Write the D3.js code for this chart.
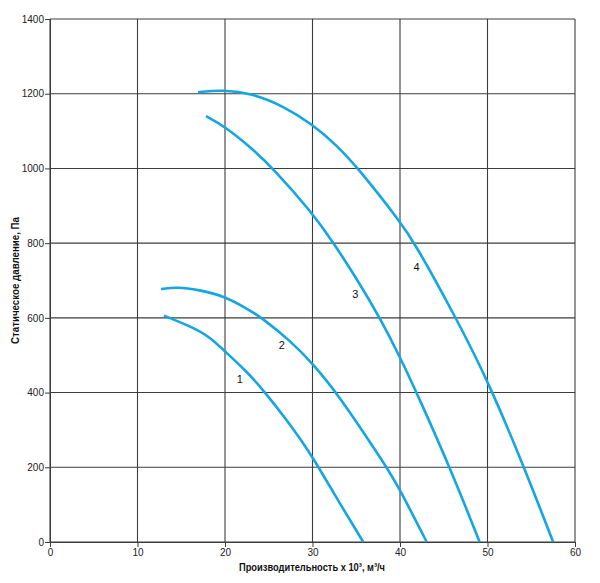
<!DOCTYPE html>
<html>
<head>
    <meta charset="utf-8">
    <title>Fan curves</title>
    <script src="https://d3js.org/d3.v7.min.js"></script>
    <style>
        body { margin: 0; background: #fff; }
        text { font-family: "Liberation Sans", Arial, sans-serif; }
        .tick text { font-size: 10px; fill: #222; }
        .axisTitle { font-size: 11px; font-weight: 700; fill: #111; }
        .curveLabel { font-size: 11px; fill: #111; }
    </style>
</head>
<body>
    <div id="chart"></div>
    <script>
        const width = 600, height = 583
        const margin = { left: 50, right: 25, top: 19, bottom: 41 }

        // x in thousands of m3/h, y in Pa
        const xTicks = [0, 10, 20, 30, 40, 50, 60]
        const yTicks = [0, 200, 400, 600, 800, 1000, 1200, 1400]

        const curve1X = [13.03, 16.38, 18.29, 20.0, 22.48, 24.6, 27.05, 28.57, 30.0, 33.2, 35.8]
        const curve1Y = [606, 574, 548, 510, 457, 400, 327, 277, 228, 100, 0]

        const curve2X = [12.7, 14.5, 17.0, 20.0, 22.78, 24.2, 27.5, 30.0, 32.8, 38.5, 40.0, 43.05]
        const curve2Y = [677, 683, 675, 658, 621, 600, 538, 478, 400, 200, 140, 0]

        const curve3X = [17.83, 20.0, 22.86, 25.52, 30.0, 32.19, 35.0, 37.7, 40.0, 41.9, 45.7, 49.1]
        const curve3Y = [1140, 1112, 1058, 1000, 880, 808, 707, 600, 495, 400, 200, 0]

        const curve4X = [16.91, 19.8, 23.2, 26.67, 30.0, 32.76, 35.24, 40.0, 41.7, 46.4, 50.0, 54.2, 57.5]
        const curve4Y = [1204, 1211, 1200, 1167, 1118, 1062, 1000, 858, 800, 600, 434, 200, 0]

        const curveNames = ["1", "2", "3", "4"]
        // label anchor points (data coords)
        const labelX = [21.7, 26.5, 34.9, 41.9]
        const labelY = [435, 528, 663, 735]

        const series = [
            { name: curveNames[0], xs: curve1X, ys: curve1Y },
            { name: curveNames[1], xs: curve2X, ys: curve2Y },
            { name: curveNames[2], xs: curve3X, ys: curve3Y },
            { name: curveNames[3], xs: curve4X, ys: curve4Y }
        ]

        const svg = d3.select("#chart")
            .append("svg")
            .attr("width", width)
            .attr("height", height)

        const x = d3.scaleLinear().domain([0, 60]).range([margin.left, width - margin.right])
        const y = d3.scaleLinear().domain([0, 1400]).range([height - margin.bottom, margin.top])

        // grid
        const grid = svg.append("g")
        grid.selectAll(".vgrid")
            .data(xTicks)
            .enter()
            .append("line")
            .attr("x1", d => x(d)).attr("x2", d => x(d))
            .attr("y1", y(0)).attr("y2", y(1400))
            .attr("stroke", "#3c3c3c")
            .attr("stroke-width", 1.1)
        grid.selectAll(".hgrid")
            .data(yTicks)
            .enter()
            .append("line")
            .attr("x1", x(0)).attr("x2", x(60))
            .attr("y1", d => y(d)).attr("y2", d => y(d))
            .attr("stroke", "#3c3c3c")
            .attr("stroke-width", 1.1)

        // axes
        const xAxis = svg.append("g")
            .attr("transform", `translate(0, ${y(0)})`)
            .call(d3.axisBottom(x).tickValues(xTicks).tickFormat(d3.format("d")).tickSize(5).tickPadding(2))
        const yAxis = svg.append("g")
            .attr("transform", `translate(${x(0)}, 0)`)
            .call(d3.axisLeft(y).tickValues(yTicks).tickFormat(d3.format("d")).tickSize(5).tickPadding(1))
        ;[xAxis, yAxis].forEach(a => {
            a.select(".domain").attr("stroke", "#3c3c3c")
            a.selectAll(".tick line").attr("stroke", "#3c3c3c")
            a.selectAll(".tick text").attr("font-family", null).attr("font-size", null)
        })

        // curves
        const line = d3.line()
            .x(d => x(d[0]))
            .y(d => y(d[1]))
            .curve(d3.curveBasis)

        svg.append("g")
            .selectAll("path")
            .data(series)
            .enter()
            .append("path")
            .attr("d", d => line(d.xs.map((v, i) => [v, d.ys[i]])))
            .attr("fill", "none")
            .attr("stroke", "#13a6e3")
            .attr("stroke-width", 2.6)

        svg.append("g")
            .selectAll("text")
            .data(curveNames)
            .enter()
            .append("text")
            .attr("class", "curveLabel")
            .attr("x", (d, i) => x(labelX[i]))
            .attr("y", (d, i) => y(labelY[i]))
            .attr("text-anchor", "middle")
            .attr("dominant-baseline", "central")
            .text(d => d)

        // axis titles
        svg.append("text")
            .attr("class", "axisTitle")
            .attr("x", 312)
            .attr("y", 571)
            .attr("text-anchor", "middle")
            .attr("textLength", 146)
            .attr("lengthAdjust", "spacingAndGlyphs")
            .text("Производительность х 10³, м³/ч")

        svg.append("text")
            .attr("class", "axisTitle")
            .attr("transform", `translate(19, ${(y(0) + y(1400)) / 2}) rotate(-90)`)
            .attr("text-anchor", "middle")
            .attr("textLength", 127)
            .attr("lengthAdjust", "spacingAndGlyphs")
            .text("Статическое давление, Па")
    </script>
</body>
</html>
